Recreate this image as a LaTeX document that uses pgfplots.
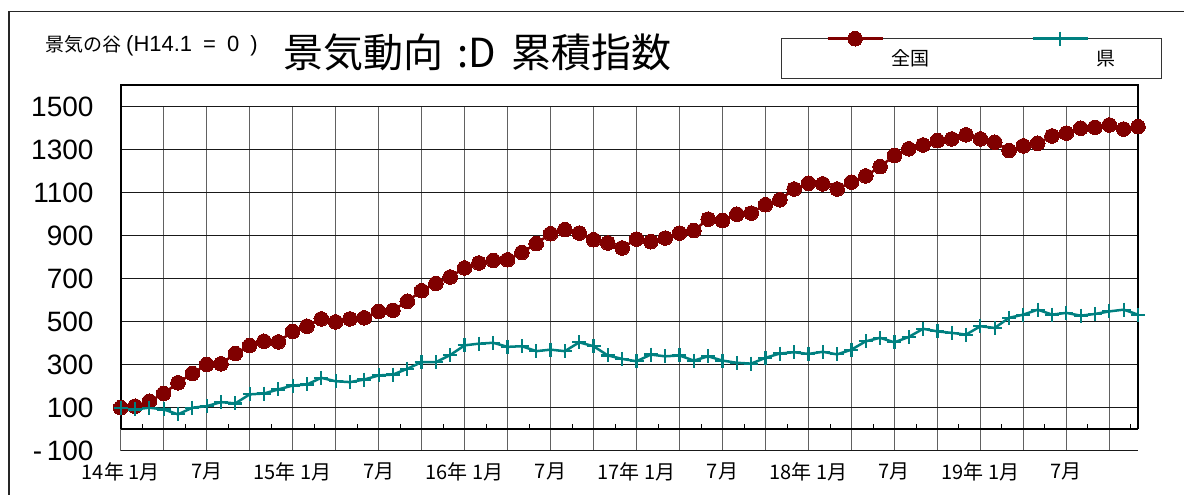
\documentclass[border=0pt]{standalone}
\usepackage{fontspec}
\setmainfont{Liberation Sans}
\newfontfamily\jp{Noto Sans CJK JP}
\usepackage{pgfplots}
\pgfplotsset{compat=1.18}
\definecolor{zred}{HTML}{800000}
\definecolor{zteal}{HTML}{008080}

\pgfplotstableread{
i zenkoku ken
0 100 100
1 107 92
2 130 100
3 166 92
4 216 69
5 259 100
6 301 107
7 304 126
8 352 120
9 389 162
10 409 166
11 406 185
12 455 203
13 479 208
14 513 239
15 499 223
16 513 219
17 518 231
18 548 250
19 553 254
20 595 281
21 644 312
22 678 312
23 708 345
24 750 390
25 773 398
26 785 402
27 788 383
28 822 386
29 863 363
30 909 370
31 928 363
32 912 404
33 881 386
34 866 343
35 843 327
36 884 316
37 872 347
38 889 339
39 912 343
40 924 319
41 977 339
42 971 319
43 1000 309
44 1005 305
45 1044 332
46 1067 352
47 1117 358
48 1144 350
49 1141 360
50 1117 348
51 1149 370
52 1178 409
53 1221 425
54 1273 404
55 1304 429
56 1322 467
57 1342 455
58 1350 448
59 1369 440
60 1350 479
61 1335 471
62 1296 518
63 1318 533
64 1330 556
65 1364 533
66 1377 541
67 1400 528
68 1404 536
69 1415 548
70 1396 556
71 1407 533
}\datatable

\begin{document}
\begin{tikzpicture}
\useasboundingbox (0pt,0pt) rectangle (1184pt,-495pt);
\draw[line width=1.2pt, black!85] (9pt,-500pt) -- (9pt,-11.7pt) -- (1190pt,-11.7pt);
\node[anchor=west, inner sep=0pt] at (45pt,-46pt) {{\jp\fontsize{19}{19}\selectfont 景気の谷}\hspace{5pt}{\fontsize{22}{22}\selectfont (H14.1\hspace{11pt}=\hspace{11pt}0\hspace{11pt})}};
\node[anchor=west, inner sep=0pt, font=\jp\fontsize{40}{40}\selectfont] at (283pt,-52pt) {景気動向\hspace{14pt}:D\hspace{16pt}累積指数};
\begin{axis}[
  at={(120.7pt,-450.7pt)}, anchor=south west,
  scale only axis, width=1017.3pt, height=344pt,
  xmin=0, xmax=71, ymin=-100, ymax=1500,
  clip=false,
  axis line style={draw=none},
  major tick length=0pt,
  xtick={0,3,...,69},
  xticklabels={14年 1月,,7月,,15年 1月,,7月,,16年 1月,,7月,,17年 1月,,7月,,18年 1月,,7月,,19年 1月,,7月,,},
  x tick label style={font=\jp\fontsize{20}{20}\selectfont, inner sep=0pt, yshift=-12pt},
  ytick={100,300,...,1300},
  yticklabels={100,300,500,700,900,1100,1300},
  extra y ticks={-100,1500},
  extra y tick labels={-\,100,1500},
  extra y tick style={grid style={black!50, line width=1.3pt}},
  y tick label style={font=\fontsize{28}{28}\selectfont, inner sep=0pt, xshift=-27pt},
  grid=major,
  x grid style={black!62, line width=1.1pt},
  y grid style={black!90, line width=0.7pt},
  legend columns=2,
  legend image code/.code={%
    \draw[overlay, mark repeat=2, mark phase=2, #1] plot coordinates {(0pt,20pt) (27.5pt,20pt) (55pt,20pt)};
    \path[draw=none, fill=none] (0pt,0pt) -- (55pt,0pt);
  },
  legend style={at={(1.0236,1.1988)}, anchor=north east, draw=black!80, line width=0.8pt,
    inner xsep=46pt, inner ysep=0pt,
    font=\jp\fontsize{19}{19}\selectfont,
    nodes={inner sep=0pt, text height=27.2pt, text depth=12.8pt},
    /tikz/every odd column/.append style={column sep=9pt},
    /tikz/every even column/.append style={column sep=103pt}},
]
\addplot[black, line width=1.8pt, mark=none, forget plot] coordinates {(0,0) (0,1600) (71,1600) (71,0)};
\addplot[black, line width=2pt, mark=none, forget plot] coordinates {(0,0) (71,0)};
\addplot[ycomb, black, line width=0.8pt, mark=none, forget plot] coordinates {(1.5,23) (4.5,23) (7.5,23) (10.5,23) (13.5,23) (16.5,23) (19.5,23) (22.5,23) (25.5,23) (28.5,23) (31.5,23) (34.5,23) (37.5,23) (40.5,23) (43.5,23) (46.5,23) (49.5,23) (52.5,23) (55.5,23) (58.5,23) (61.5,23) (64.5,23) (67.5,23) (70.5,23)};
\addplot[zred, line width=2.5pt, mark=*, mark size=7.3pt, mark options={fill=zred, draw=zred, line width=0pt}] table[x=i, y=zenkoku] {\datatable};
\addplot[zteal, line width=2.5pt, mark=+, mark size=7pt, mark options={line width=2.2pt}] table[x=i, y=ken] {\datatable};
\legend{全国,県}
\end{axis}
\end{tikzpicture}
\end{document}
